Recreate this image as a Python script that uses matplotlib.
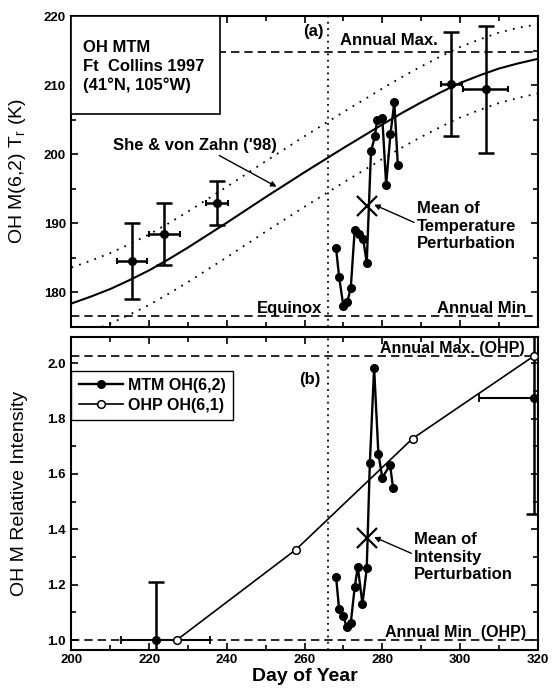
import matplotlib
matplotlib.use("Agg")
import matplotlib.pyplot as plt
from matplotlib.patches import Rectangle
from matplotlib.ticker import MultipleLocator

plt.rcParams['font.family'] = ['Liberation Sans', 'DejaVu Sans']
plt.rcParams['mathtext.fontset'] = 'custom'
plt.rcParams['mathtext.rm'] = 'Liberation Sans'

# ---- panel (a): rotational temperature
model_days = [200, 205, 210, 215, 220, 225, 230, 235, 240, 245, 250, 255, 260,
              265, 270, 275, 280, 285, 290, 295, 300, 305, 310, 315, 320]
model_temp = [178.4, 179.4, 180.5, 181.8, 183.2, 184.8, 186.5, 188.3, 190.1, 191.95,
              193.8, 195.6, 197.4, 199.15, 200.9, 202.6, 204.3, 205.95, 207.5, 208.95,
              210.3, 211.4, 212.4, 213.15, 213.8]
model_upper = [183.6, 184.6, 185.7, 187.0, 188.4, 190.0, 191.7, 193.5, 195.3, 197.15,
               199.0, 200.8, 202.6, 204.35, 206.1, 207.8, 209.5, 211.15, 212.7, 214.15,
               215.5, 216.6, 217.6, 218.3, 218.8]
model_lower = [173.4, 174.4, 175.5, 176.8, 178.2, 179.8, 181.5, 183.3, 185.1, 186.95,
               188.8, 190.6, 192.4, 194.15, 195.9, 197.6, 199.3, 200.95, 202.5, 203.95,
               205.3, 206.4, 207.4, 208.15, 208.8]

mtm_t_days = [268.1, 268.9, 270.0, 271.0, 271.9, 272.9, 274.0, 275.1, 276.0,
              277.1, 278.1, 278.7, 280.0, 281.0, 282.1, 283.1, 284.0]
mtm_t_vals = [186.5, 182.2, 178.0, 178.6, 180.7, 189.0, 188.5, 187.7, 184.3,
              200.4, 202.6, 205.0, 205.3, 195.6, 202.9, 207.5, 198.5]

avg_days = [215.6, 223.9, 237.4, 297.7, 306.6]
avg_temp = [184.6, 188.5, 193.0, 210.2, 209.4]
avg_temp_err = [5.5, 4.5, 3.2, 7.5, 9.2]
avg_day_err = [3.9, 4.0, 2.8, 2.7, 5.7]

temp_mean_day, temp_mean_val = 276.1, 192.5
annual_max_t = 214.8
annual_min_t = 176.6
equinox_day = 266

# ---- panel (b): relative intensity
ohp_days = [227.1, 257.8, 287.8, 319.0]
ohp_int = [1.0, 1.327, 1.728, 2.026]

mtm_i_days = [268.1, 268.9, 270.0, 270.8, 271.9, 272.9, 273.7, 274.9, 276.0,
              276.8, 277.9, 279.0, 280.0, 282.0, 282.8]
mtm_i_vals = [1.229, 1.111, 1.087, 1.048, 1.062, 1.190, 1.265, 1.130, 1.259,
              1.638, 1.984, 1.674, 1.587, 1.632, 1.548]

mtm_avg_days = [221.75, 319.0]
mtm_avg_int = [1.0, 1.876]
mtm_avg_int_err = [0.21, 0.42]
mtm_avg_day_err_lo = [9.0, 14.0]
mtm_avg_day_err_hi = [14.0, 14.0]

int_mean_day, int_mean_val = 276.1, 1.367
annual_max_i = 2.025
annual_min_i = 1.0

fig = plt.figure(figsize=(5.58, 6.88), dpi=100)
ax1 = fig.add_axes([0.128, 0.5247, 0.8356, 0.452])
ax2 = fig.add_axes([0.128, 0.0552, 0.8356, 0.4554])

dash = (0, (5, 3))
dots = (0, (1, 3.5))
FS = 12


def style_axes(ax):
    for s in ax.spines.values():
        s.set_linewidth(1.5)
    ax.tick_params(which='both', direction='in', top=True, right=True, width=1.2)
    ax.tick_params(which='major', length=5, labelsize=9.5, pad=4)
    ax.tick_params(which='minor', length=3.5)
    ax.xaxis.set_major_locator(MultipleLocator(20))
    ax.xaxis.set_minor_locator(MultipleLocator(10))
    for lab in ax.get_xticklabels() + ax.get_yticklabels():
        lab.set_fontweight('bold')


# ---------- (a)
ax1.plot(model_days, model_temp, color='k', lw=1.5, zorder=3)
ax1.plot(model_days, model_upper, color='k', lw=1.3, ls=dots, zorder=3)
ax1.plot(model_days, model_lower, color='k', lw=1.3, ls=dots, zorder=3)
ax1.axhline(annual_max_t, color='k', lw=1.2, ls=dash, zorder=1)
ax1.axhline(annual_min_t, color='k', lw=1.2, ls=dash, zorder=1)
ax1.axvline(equinox_day, color='k', lw=1.3, ls=(0, (1, 2.5)), zorder=1)

ax1.errorbar(avg_days, avg_temp, yerr=avg_temp_err, fmt='o', color='k', ms=5.5,
             elinewidth=1.8, capsize=5.5, capthick=1.8, zorder=4)
ax1.errorbar(avg_days, avg_temp, xerr=avg_day_err, fmt='none', ecolor='k',
             elinewidth=1.8, capsize=2.5, capthick=1.5, zorder=4)
ax1.plot(mtm_t_days, mtm_t_vals, 'o-', color='k', ms=5.5, lw=1.7, zorder=5)
ax1.plot([temp_mean_day], [temp_mean_val], 'x', color='k', ms=14, mew=1.6, zorder=6)

ax1.set_xlim(200, 320)
ax1.set_ylim(175, 220)
ax1.yaxis.set_major_locator(MultipleLocator(10))
ax1.yaxis.set_minor_locator(MultipleLocator(5))
style_axes(ax1)
ax1.tick_params(labelbottom=False)
ax1.set_ylabel(r'OH M(6,2) T$_\mathrm{r}$ (K)', fontsize=14)
ax1.yaxis.set_label_coords(-0.093, 0.5)

ax1.add_patch(Rectangle((0, 0.685), 0.319, 0.315, transform=ax1.transAxes,
                        facecolor='white', edgecolor='k', lw=1.2, zorder=7))
ax1.text(0.024, 0.838, 'OH MTM\nFt  Collins 1997\n(41°N, 105°W)',
         transform=ax1.transAxes, fontsize=FS, fontweight='bold',
         va='center', ha='left', linespacing=1.3, zorder=8)

ax1.text(0.541, 0.949, '(a)', transform=ax1.transAxes, fontsize=FS,
         fontweight='bold', ha='right', va='center')
ax1.text(0.577, 0.92, 'Annual Max.', transform=ax1.transAxes, fontsize=FS,
         fontweight='bold', ha='left', va='center')
ax1.text(0.784, 0.058, 'Annual Min', transform=ax1.transAxes, fontsize=FS,
         fontweight='bold', ha='left', va='center')
ax1.text(0.537, 0.059, 'Equinox', transform=ax1.transAxes, fontsize=FS,
         fontweight='bold', ha='right', va='center')

ax1.annotate("She & von Zahn ('98)", xy=(252.8, 195.3), xytext=(210.6, 201.3),
             fontsize=FS, fontweight='bold', ha='left', va='center',
             arrowprops=dict(arrowstyle='-|>', lw=1, color='k', mutation_scale=8,
                             shrinkA=0, shrinkB=0, relpos=(0.62, 0.0)))
ax1.annotate('Mean of\nTemperature\nPerturbation',
             xy=(temp_mean_day + 1.8, temp_mean_val + 0.2),
             xytext=(288.9, 189.6), fontsize=FS, fontweight='bold',
             ha='left', va='center', linespacing=1.2,
             arrowprops=dict(arrowstyle='-|>', lw=1, color='k', mutation_scale=8,
                             shrinkA=0, shrinkB=0, relpos=(0.0, 0.55)))

# ---------- (b)
ax2.axhline(annual_max_i, color='k', lw=1.2, ls=dash, zorder=1)
ax2.axhline(annual_min_i, color='k', lw=1.2, ls=dash, zorder=1)
ax2.axvline(equinox_day, color='k', lw=1.3, ls=(0, (1, 2.5)), zorder=1)

ax2.errorbar(mtm_avg_days, mtm_avg_int, yerr=mtm_avg_int_err, fmt='none', ecolor='k',
             elinewidth=1.8, capsize=6, capthick=1.8, zorder=4)
ax2.errorbar(mtm_avg_days, mtm_avg_int, xerr=[mtm_avg_day_err_lo, mtm_avg_day_err_hi],
             fmt='none', ecolor='k', elinewidth=1.5, capsize=3, capthick=1.3, zorder=4)
ax2.plot(mtm_avg_days, mtm_avg_int, 'o', color='k', ms=5.5, zorder=5)
ax2.plot(ohp_days, ohp_int, 'o-', color='k', mfc='white', ms=5.5, mew=1.1, lw=1.2,
         zorder=4, label='OHP OH(6,1)')
ax2.plot(mtm_i_days, mtm_i_vals, 'o-', color='k', ms=5.5, lw=1.7, zorder=5,
         label='MTM OH(6,2)')
ax2.plot([int_mean_day], [int_mean_val], 'x', color='k', ms=14, mew=1.6, zorder=6)

ax2.set_xlim(200, 320)
ax2.set_ylim(0.964, 2.096)
ax2.yaxis.set_major_locator(MultipleLocator(0.2))
ax2.yaxis.set_minor_locator(MultipleLocator(0.1))
style_axes(ax2)
ax2.tick_params(axis='x', pad=3)
ax2.set_ylabel('OH M Relative Intensity', fontsize=14)
ax2.yaxis.set_label_coords(-0.093, 0.5)
ax2.set_xlabel('Day of Year', fontsize=14, fontweight='bold', labelpad=1)

h, l = ax2.get_legend_handles_labels()
leg = ax2.legend(h[::-1], l[::-1], loc='upper left', bbox_to_anchor=(0.0, 0.891),
                 borderaxespad=0, fancybox=False, edgecolor='k', framealpha=1,
                 prop=dict(weight='bold', size=11.5), handlelength=2.8,
                 borderpad=0.45, labelspacing=0.3, handletextpad=0.3)
leg.get_frame().set_linewidth(1.0)

ax2.text(0.535, 0.865, '(b)', transform=ax2.transAxes, fontsize=FS,
         fontweight='bold', ha='right', va='center')
ax2.text(0.973, 0.961, 'Annual Max. (OHP)', transform=ax2.transAxes, fontsize=11.5,
         fontweight='bold', ha='right', va='center')
ax2.text(0.976, 0.055, 'Annual Min  (OHP)', transform=ax2.transAxes, fontsize=11.5,
         fontweight='bold', ha='right', va='center')
ax2.annotate('Mean of\nIntensity\nPerturbation',
             xy=(int_mean_day + 1.8, int_mean_val + 0.005),
             xytext=(288.2, 1.30), fontsize=FS, fontweight='bold',
             ha='left', va='center', linespacing=1.2,
             arrowprops=dict(arrowstyle='-|>', lw=1, color='k', mutation_scale=8,
                             shrinkA=0, shrinkB=0, relpos=(0.0, 0.55)))

fig.savefig('out.png', dpi=100)
